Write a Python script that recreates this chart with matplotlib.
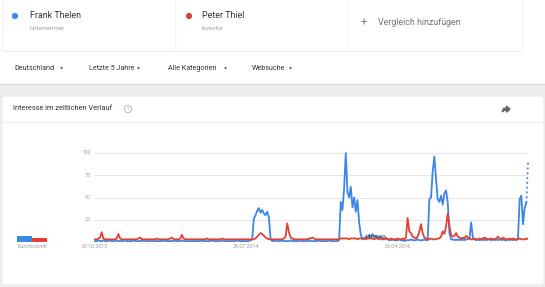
import numpy as np
import matplotlib.pyplot as plt
from matplotlib.patches import Rectangle, Circle, Polygon

plt.rcParams['font.family'] = ['Roboto', 'DejaVu Sans']

# weekly search interest, 260 weeks (Google Trends, Deutschland, letzte 5 Jahre)
frank_thelen = [
    1, 1, 2, 1, 1, 2, 1, 1, 1, 2, 1, 1, 1, 2, 1, 1, 1, 1, 2, 1,
    1, 1, 1, 2, 1, 1, 1, 1, 1, 2, 1, 1, 1, 1, 2, 1, 1, 1, 1, 1,
    1, 2, 1, 1, 1, 1, 1, 1, 2, 1, 1, 1, 2, 1, 1, 1, 1, 1, 1, 1,
    1, 1, 1, 2, 1, 1, 1, 1, 1, 1, 2, 1, 1, 1, 1, 1, 1, 2, 1, 1,
    1, 1, 1, 1, 1, 2, 1, 1, 1, 1, 1, 1, 1, 2, 3, 26, 30, 35, 38, 33,
    36, 32, 30, 34, 28, 4, 1, 1, 2, 1, 1, 1, 2, 1, 1, 1, 1, 2, 1, 1,
    1, 1, 1, 2, 1, 1, 1, 1, 2, 1, 1, 1, 1, 1, 2, 1, 1, 1, 1, 1,
    2, 1, 1, 1, 1, 1, 2, 45, 36, 60, 100, 56, 50, 62, 39, 50, 34, 47, 22, 8,
    3, 4, 6, 4, 8, 5, 9, 6, 7, 4, 5, 6, 4, 3, 5, 3, 2, 2, 3, 2,
    2, 2, 3, 2, 2, 1, 2, 2, 2, 3, 2, 2, 2, 3, 2, 2, 2, 3, 2, 2,
    48, 50, 80, 96, 70, 48, 45, 52, 42, 55, 58, 44, 10, 3, 3, 2, 3, 2, 3, 2,
    3, 2, 3, 3, 4, 22, 5, 3, 2, 3, 2, 3, 2, 3, 2, 3, 3, 2, 3, 2,
    3, 2, 3, 2, 3, 2, 2, 3, 2, 3, 2, 3, 2, 4, 48, 52, 20, 38, 44, 90,
]
peter_thiel = [
    3, 3, 4, 5, 11, 4, 3, 3, 3, 3, 3, 3, 3, 4, 9, 4, 3, 3, 3, 3,
    3, 3, 3, 3, 3, 3, 4, 5, 3, 3, 3, 3, 3, 3, 3, 3, 3, 4, 3, 3,
    3, 3, 3, 3, 3, 4, 5, 3, 3, 3, 3, 4, 8, 4, 3, 3, 3, 3, 3, 3,
    3, 3, 3, 3, 3, 3, 3, 4, 3, 3, 3, 3, 3, 3, 3, 3, 4, 3, 3, 3,
    3, 3, 3, 3, 3, 3, 3, 3, 3, 3, 3, 3, 3, 3, 3, 3, 4, 6, 8, 10,
    9, 7, 5, 4, 3, 3, 3, 3, 3, 3, 3, 3, 3, 4, 6, 21, 11, 5, 4, 3,
    3, 3, 3, 3, 3, 3, 3, 3, 4, 4, 5, 4, 3, 3, 3, 3, 3, 3, 3, 3,
    3, 3, 3, 3, 3, 3, 3, 4, 4, 4, 4, 4, 3, 4, 4, 4, 4, 3, 4, 4,
    4, 4, 3, 4, 4, 4, 4, 3, 4, 4, 3, 4, 3, 3, 4, 3, 3, 4, 3, 3,
    3, 4, 3, 3, 4, 3, 5, 27, 12, 10, 6, 5, 4, 6, 12, 20, 10, 5, 4, 3,
    3, 4, 3, 3, 3, 4, 4, 6, 12, 9, 18, 32, 18, 8, 6, 7, 10, 6, 5, 4,
    5, 4, 7, 5, 4, 3, 3, 4, 3, 3, 4, 3, 4, 5, 4, 3, 3, 4, 3, 3,
    4, 6, 4, 3, 5, 4, 3, 3, 4, 3, 4, 3, 3, 3, 4, 3, 3, 3, 4, 3,
]
averages = [7, 4]
y_ticks = [25, 50, 75, 100]
x_tick_weeks = [0, 90, 181]
x_tick_labels = ["07.10.2013", "26.07.2014", "03.04.2016"]

BLUE = "#3b86e6"
RED = "#e53f33"
W, H = 545, 287

fig = plt.figure(figsize=(W / 100, H / 100), dpi=100)
fig.patch.set_facecolor("#eeeeee")

# page chrome in pixel coordinates
bg = fig.add_axes([0, 0, 1, 1])
bg.set_xlim(0, W)
bg.set_ylim(H, 0)
bg.axis("off")
bg.add_patch(Rectangle((0, 0), W, 83, color="white", zorder=0))
bg.plot([0, W], [83.5, 83.5], color="#d6d6d6", lw=1)
bg.plot([2, 522], [51, 51], color="#ededed", lw=0.8)
for xv in [2, 175, 348, 522]:
    bg.plot([xv, xv], [0, 51], color="#f3f3f3", lw=0.8)

bg.add_patch(Circle((15, 16), 2.4, color="#4285f4"))
bg.text(30, 16, "Frank Thelen", fontsize=6.4, color="#333333", va="center")
bg.text(30, 28.5, "Unternehmer", fontsize=4.4, color="#9e9e9e", va="center")
bg.add_patch(Circle((189, 16), 2.4, color="#db4437"))
bg.text(202, 16, "Peter Thiel", fontsize=6.4, color="#333333", va="center")
bg.text(202, 28.5, "Investor", fontsize=4.4, color="#9e9e9e", va="center")
bg.text(364, 22.5, "+", fontsize=8, color="#757575", va="center", ha="center")
bg.text(378, 22.5, "Vergleich hinzufügen", fontsize=6.4, color="#757575", va="center")

filters = [("Deutschland", 14, 61), ("Letzte 5 Jahre", 89, 138),
           ("Alle Kategorien", 168, 225), ("Websuche", 252, 290)]
for label, x0, xa in filters:
    bg.text(x0, 68, label, fontsize=5.1, color="#333333", va="center")
    bg.plot(xa, 68, marker="v", ms=2.2, color="#777777", mec="none")

# chart card
bg.add_patch(Rectangle((3, 97), 539, 186, color="white", zorder=0))
bg.plot([3, 542], [121.5, 121.5], color="#eeeeee", lw=0.8)
bg.text(13, 109, "Interesse im zeitlichen Verlauf", fontsize=5.3, color="#333333", va="center")
bg.add_patch(Circle((128, 109), 3.6, fill=False, ec="#b0b0b0", lw=0.6))
bg.text(128, 109.3, "?", fontsize=3.8, color="#b0b0b0", ha="center", va="center")
bg.add_patch(Polygon([(502, 112), (503.5, 108.5), (506.5, 108), (506.5, 106), (510, 109.2),
                      (506.5, 112.2), (506.5, 110.2), (504.5, 110.3)], color="#666666"))

# average bars
ax_avg = fig.add_axes([13 / W, 1 - 242 / H, 55 / W, 89 / H])
ax_avg.bar([0, 1], averages, width=1, color=[BLUE, RED])
ax_avg.set_xlim(-0.8, 2.87)
ax_avg.set_ylim(0, 100)
ax_avg.axhline(0, color="#cccccc", lw=0.8)
ax_avg.axis("off")
ax_avg.text(0.5, -5.5, "Durchschnitt", fontsize=3.8, color="#9e9e9e", ha="center", va="center")

# main time series
ax = fig.add_axes([95 / W, 1 - 242 / H, 433 / W, 89 / H])
ax.set_facecolor("none")
weeks = np.arange(len(frank_thelen))
ax.set_xlim(0, len(weeks) - 1)
ax.set_ylim(0, 100)
for v in y_ticks:
    ax.axhline(v, color="#e6e6e6", lw=0.7, zorder=0)
    ax.text(-2.5, v, str(v), fontsize=3.8, color="#9e9e9e", ha="right", va="center")
ax.axhline(0, color="#cccccc", lw=0.8, zorder=0)

n = len(weeks)
ax.plot(weeks[:n - 1], frank_thelen[:n - 1], color=BLUE, lw=1.3, clip_on=False, zorder=2)
ax.plot(weeks[n - 2:], frank_thelen[n - 2:], color=BLUE, lw=1.3, ls=":", clip_on=False, zorder=2)
ax.plot(weeks[:n - 1], peter_thiel[:n - 1], color=RED, lw=1.3, clip_on=False, zorder=3)
ax.plot(weeks[n - 2:], peter_thiel[n - 2:], color=RED, lw=1.3, ls=":", clip_on=False, zorder=3)
ax.text(162, 6, "Hinweis", fontsize=4.2, color="#444444", va="center", zorder=4)

for wk, lab in zip(x_tick_weeks, x_tick_labels):
    ax.text(wk, -5.5, lab, fontsize=3.8, color="#9e9e9e", ha="center", va="center")
ax.axis("off")

fig.savefig("out.png", dpi=100, facecolor=fig.get_facecolor())
